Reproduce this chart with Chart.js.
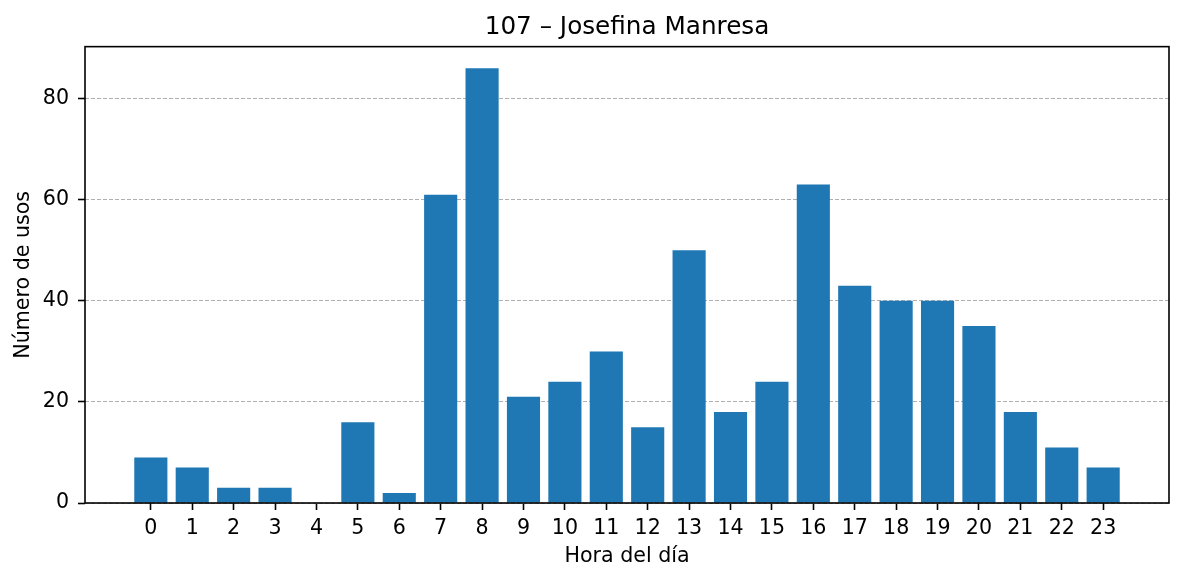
<html>
<head>
  <meta charset="utf-8">
  <title>107 – Josefina Manresa</title>
  <script src="https://cdn.jsdelivr.net/npm/chart.js"></script>
  <style>
    body { margin: 0; background: #fff; }
    #wrap { width: 1184px; height: 581px; }
  </style>
</head>
<body>
<div id="wrap"><canvas id="chart"></canvas></div>
<script>
const hours = [0, 1, 2, 3, 4, 5, 6, 7, 8, 9, 10, 11, 12, 13, 14, 15, 16, 17, 18, 19, 20, 21, 22, 23];
const usos = [9, 7, 3, 3, 0, 16, 2, 61, 86, 21, 24, 30, 15, 50, 18, 24, 63, 43, 40, 40, 35, 18, 11, 7];
const yTicks = [0, 20, 40, 60, 80];

const font = "'DejaVu Sans', sans-serif";

// marco negro alrededor del área del gráfico
const frame = {
  id: 'frame',
  afterDraw(chart) {
    const { ctx, chartArea: a } = chart;
    ctx.save();
    ctx.strokeStyle = '#000';
    ctx.lineWidth = 1.6;
    ctx.strokeRect(a.left, a.top, a.right - a.left, a.bottom - a.top);
    ctx.restore();
  }
};

new Chart(document.getElementById('chart'), {
  type: 'bar',
  data: {
    datasets: [{
      data: hours.map((h, i) => ({ x: h, y: usos[i] })),
      backgroundColor: '#1f77b4',
      borderWidth: 0,
      categoryPercentage: 1,
      barPercentage: 0.8
    }]
  },
  options: {
    responsive: true,
    maintainAspectRatio: false,
    animation: false,
    layout: { padding: { left: 0, right: 15, top: 0, bottom: 0 } },
    plugins: {
      legend: { display: false },
      tooltip: { enabled: false },
      title: {
        display: true,
        fullSize: false,
        text: '107 – Josefina Manresa',
        color: '#000',
        font: { family: font, size: 24.7, weight: 'normal' },
        padding: { top: 13, bottom: 4 }
      }
    },
    scales: {
      x: {
        type: 'linear',
        min: -1.59,
        max: 24.59,
        offset: false,
        afterBuildTicks: s => { s.ticks = hours.map(v => ({ value: v })); },
        afterFit: s => { s.height = 78; },
        ticks: {
          color: '#000',
          font: { family: font, size: 20.6 },
          padding: 6,
          maxRotation: 0,
          autoSkip: false,
          callback: v => String(v)
        },
        grid: {
          offset: false,
          drawOnChartArea: false,
          drawTicks: true,
          tickLength: 7,
          tickColor: '#000',
          tickWidth: 1.6,
          tickBorderDash: []
        },
        border: { display: false },
        title: {
          display: true,
          text: 'Hora del día',
          color: '#000',
          font: { family: font, size: 20.6 },
          padding: { top: 0, bottom: 12 }
        }
      },
      y: {
        min: 0,
        max: 90.3,
        afterBuildTicks: s => { s.ticks = yTicks.map(v => ({ value: v })); },
        afterFit: s => { s.width = 85; },
        ticks: {
          color: '#000',
          font: { family: font, size: 20.6 },
          padding: 9
        },
        grid: {
          color: '#b0b0b0',
          lineWidth: 1,
          drawTicks: true,
          tickLength: 7,
          tickColor: '#000',
          tickWidth: 1.6,
          tickBorderDash: []
        },
        border: { display: false, dash: [4, 2] },
        title: {
          display: true,
          text: 'Número de usos',
          color: '#000',
          font: { family: font, size: 20.6 },
          padding: { top: 11, bottom: 0 }
        }
      }
    }
  },
  plugins: [frame]
});
</script>
</body>
</html>
